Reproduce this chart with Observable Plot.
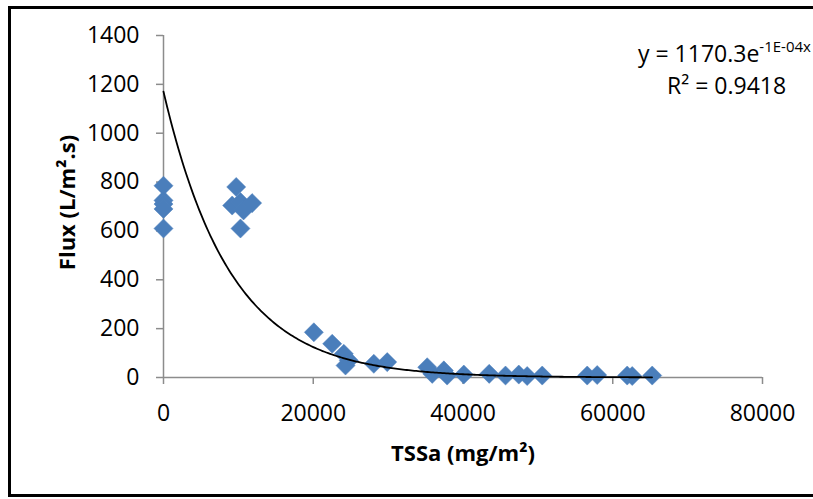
<!DOCTYPE html>
<html>
<head>
<meta charset="utf-8">
<script src="https://cdn.jsdelivr.net/npm/d3@7"></script>
<script src="https://cdn.jsdelivr.net/npm/@observablehq/plot@0.6"></script>
<style>
  html, body { margin: 0; padding: 0; background: #fff; overflow: hidden; width: 813px; height: 499px; }
  #wrap { position: relative; width: 813px; height: 499px; overflow: hidden; font-family: "Open Sans", sans-serif; }
  #frame { position: absolute; left: 0; top: 0; }
  #chart { position: absolute; left: 0; top: 0; }
  .eq { position: absolute; font-size: 23px; color: #000; white-space: nowrap; line-height: 1; }
  .eq sup { font-size: 15px; vertical-align: 0; position: relative; top: -10px; }
</style>
</head>
<body>
<div id="wrap">
  <svg id="frame" width="813" height="499"><path d="M813,7.5H9.5V495.5H813" fill="none" stroke="#000" stroke-width="3"/></svg>
  <div id="chart"></div>
  <div class="eq" style="left:638px; top:42px;">y = 1170.3e<sup>-1E-04x</sup></div>
  <div class="eq" style="left:667px; top:74px;">R² = 0.9418</div>
</div>
<script>
// Data
const tssa = [0, 0, 0, 0, 0,
  9170, 9710, 10280, 10280, 10690, 11840,
  20080, 22530, 24080, 24750, 24310, 28090, 29880,
  35220, 35890, 37440, 37880, 40110, 43500, 45680, 47450, 48570, 50580,
  56590, 57920, 61930, 62600, 65270];
const flux = [785, 725, 710, 690, 610,
  704, 780, 718, 610, 684, 714,
  185, 138, 97, 70, 49, 56, 63,
  42, 15, 29, 8, 12, 15, 8, 12, 6, 8,
  8, 10, 8, 6, 8];
const xTicks = [0, 20000, 40000, 60000, 80000];
const yTicks = [0, 200, 400, 600, 800, 1000, 1200, 1400];
// Exponential trendline y = a * exp(-b x)
const trendA = 1170.3;
const trendB = 1.12e-4;
const xLabel = "TSSa (mg/m²)";
const yLabel = "Flux (L/m².s)";

const points = tssa.map((x, i) => ({x, y: flux[i]}));
const xMax = d3.max(tssa);
const curve = d3.range(0, xMax + 1, 250).map(x => ({x, y: trendA * Math.exp(-trendB * x)}));

const axisGray = "#8c8c8c";
const chart = Plot.plot({
  width: 813,
  height: 499,
  marginLeft: 163,
  marginRight: 51,
  marginTop: 35,
  marginBottom: 122,
  style: { fontFamily: "Open Sans, sans-serif", fontSize: "23px", background: "transparent", overflow: "visible" },
  x: { domain: [0, 80000], ticks: xTicks, tickFormat: d => String(d) },
  y: { domain: [0, 1400], ticks: yTicks, tickFormat: d => String(d) },
  marks: [
    Plot.ruleX([0], { y1: 0, y2: 1400, stroke: axisGray, strokeWidth: 1.5 }),
    Plot.ruleY([0], { x1: 0, x2: 80000, stroke: axisGray, strokeWidth: 1.5 }),
    Plot.axisX({ ticks: xTicks, tickSize: 7, tickPadding: 20, stroke: axisGray, strokeWidth: 1.5, label: null, fill: "#000", fontSize: 23, tickFormat: d => String(d) }),
    Plot.axisY({ ticks: yTicks, tickSize: 7, tickPadding: 17, stroke: axisGray, strokeWidth: 1.5, label: null, fill: "#000", fontSize: 23, tickFormat: d => String(d) }),
    Plot.dot(points, { x: "x", y: "y", symbol: "diamond2", r: 8.6, fill: "#4A7EBB", stroke: "#4F81BD", strokeWidth: 0.5 }),
    Plot.line(curve, { x: "x", y: "y", stroke: "#000", strokeWidth: 1.8 }),
    Plot.text([xLabel], { frameAnchor: "bottom", dy: 76, fontWeight: "bold", fontSize: 22, fill: "#000", textAnchor: "middle", lineAnchor: "middle" }),
    Plot.text([yLabel], { frameAnchor: "left", dx: -96, dy: -4, rotate: -90, fontWeight: "bold", fontSize: 22, fill: "#000", textAnchor: "middle", lineAnchor: "middle" })
  ]
});
document.getElementById("chart").appendChild(chart);
</script>
</body>
</html>
